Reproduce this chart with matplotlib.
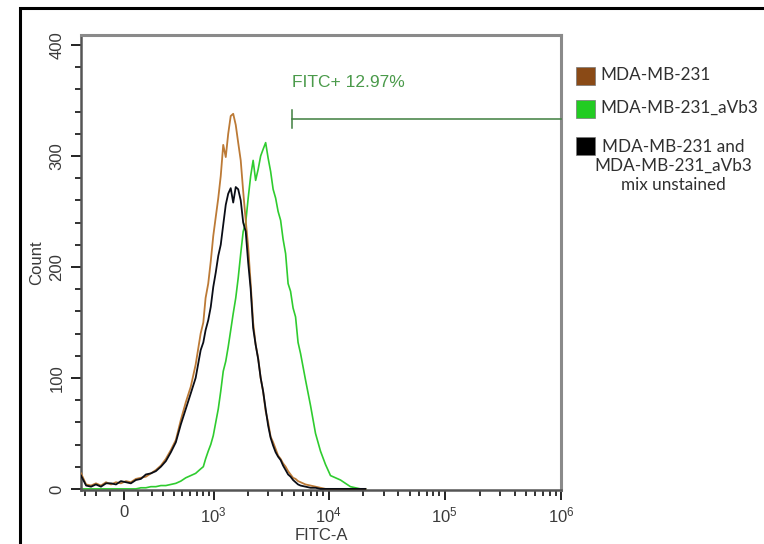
import numpy as np
import matplotlib
matplotlib.use("Agg")
import matplotlib.pyplot as plt
from matplotlib.patches import Rectangle

plt.rcParams['font.family'] = ['Liberation Sans', 'DejaVu Sans']
plt.rcParams['mathtext.fontset'] = 'custom'
plt.rcParams['mathtext.rm'] = 'Liberation Sans'
plt.rcParams['mathtext.it'] = 'Liberation Sans'

# ---------------- data ----------------
fitc = [-333, -286, -243, -203, -164, -126, -90, -55, -21, 14, 48, 83, 119, 156,
        195, 235, 278, 323, 372, 424, 480, 541, 607, 678, 757, 802, 842, 891, 940,
        991, 1044, 1100, 1158, 1219, 1284, 1350, 1421, 1495, 1574, 1654, 1741,
        1830, 1925, 2023, 2127, 2235, 2349, 2471, 2598, 2728, 2870, 3016, 3170,
        3331, 3502, 3678, 3867, 4061, 4270, 4486, 4712, 4952, 5203, 5467, 5745,
        6344, 7005, 7729, 8533, 9420, 10402, 11484, 12681, 13990, 15451, 17052,
        18827, 20776]

count_mda231 = [14, 4, 3, 5, 3, 6, 4, 6, 5, 7, 6, 9, 10, 11,
                14, 17, 21, 27, 35, 44, 62, 78, 92, 112, 140, 150, 172, 185, 205,
                228, 245, 262, 282, 310, 299, 320, 336, 338, 328, 312, 296,
                268, 242, 218, 185, 150, 130, 118, 100, 88, 70, 60, 47,
                42, 36, 30, 27, 23, 20, 16, 13, 10, 9, 7, 6,
                4, 3, 2, 1, 0, 0, 0, 0, 0, 0, 0,
                0, 0]

count_avb3 = [0, 0, 0, 0, 0, 0, 0, 0, 0, 0, 0, 0, 1, 1,
              2, 2, 3, 3, 4, 5, 7, 10, 12, 14, 18, 20, 27, 34, 40,
              48, 60, 72, 88, 106, 115, 128, 143, 158, 172, 190, 212,
              232, 240, 262, 282, 296, 278, 288, 300, 306, 312, 298, 286,
              270, 262, 250, 242, 225, 212, 185, 178, 163, 155, 132, 122,
              98, 75, 50, 34, 22, 12, 10, 8, 5, 2, 1,
              0, 0]

count_mix = [12, 3, 2, 4, 2, 5, 5, 4, 7, 6, 5, 8, 9, 13,
             14, 16, 20, 25, 33, 42, 58, 72, 86, 100, 125, 132, 143, 152, 164,
             182, 195, 210, 220, 238, 256, 266, 271, 258, 272, 270, 260,
             240, 232, 204, 180, 145, 130, 117, 100, 88, 72, 57, 46,
             39, 33, 29, 26, 21, 17, 13, 11, 8, 6, 4, 3,
             2, 1, 1, 0, 0, 0, 0, 0, 0, 0, 0,
             0, 0]

series_labels = ['MDA-MB-231', 'MDA-MB-231_aVb3',
                 'MDA-MB-231 and\nMDA-MB-231_aVb3\nmix unstained']
gate_label = 'FITC+ 12.97%'
gate_start = 4880
gate_end = 1e6
gate_level = 333

xtick_values = [0, 1e3, 1e4, 1e5, 1e6]
xtick_labels = ['0', '$10^3$', '$10^4$', '$10^5$', '$10^6$']
xminor_values = [-300, -200, -100, 100, 200, 300, 400, 500, 600, 700, 800, 900,
                 2e3, 3e3, 4e3, 5e3, 6e3, 7e3, 8e3, 9e3,
                 2e4, 3e4, 4e4, 5e4, 6e4, 7e4, 8e4, 9e4,
                 2e5, 3e5, 4e5, 5e5, 6e5, 7e5, 8e5, 9e5]
ytick_values = [0, 100, 200, 300, 400]

# ---------------- figure ----------------
fig = plt.figure(figsize=(7.64, 5.44), dpi=100)
W, H = 764, 544
ax = fig.add_axes([81 / W, 1 - 490 / H, (561 - 81) / W, (490 - 35) / H])

C = 348.0
def fwd(x):
    return np.arcsinh(np.asarray(x, dtype=float) / C)
def inv(y):
    return C * np.sinh(np.asarray(y, dtype=float))

ax.set_xscale('function', functions=(fwd, inv))
ax.set_xlim(-333, 1e6)
ax.set_ylim(-1, 409)

brown = '#bc7a36'
green = '#2fcc2f'
black = '#0a0d16'
ax.plot(fitc, count_mda231, color=brown, lw=1.3, zorder=3)
ax.plot(fitc, count_avb3, color=green, lw=1.2, zorder=2)
ax.plot(fitc, count_mix, color=black, lw=1.3, zorder=4)

# gate
gate_col = '#3f7f3f'
ax.plot([gate_start, gate_end], [gate_level, gate_level], color=gate_col, lw=1.1,
        clip_on=False, zorder=5)
ax.plot([gate_start, gate_start], [gate_level - 8, gate_level + 8], color=gate_col,
        lw=1.1, zorder=5)
ax.text(gate_start, 366, gate_label, color='#4a9a4a', fontsize=12.5,
        ha='left', va='center')

# axes styling
for s in ['top', 'right']:
    ax.spines[s].set_color('#8a8a8a')
    ax.spines[s].set_linewidth(2.2)
for s in ['left', 'bottom']:
    ax.spines[s].set_color('#555555')
    ax.spines[s].set_linewidth(1.8)

ax.set_xticks(xtick_values, labels=xtick_labels)
ax.set_xticks(xminor_values, minor=True)
ax.set_yticks(ytick_values, labels=[str(v) for v in ytick_values])
ax.set_yticks(np.arange(0, 401, 20), minor=True)
ax.tick_params(axis='both', which='major', direction='out', length=7, width=1.4,
               color='#222222', labelsize=12, labelcolor='#3a3a3a')
ax.tick_params(axis='both', which='minor', direction='out', length=4.5, width=1.3,
               color='#222222')
ax.tick_params(axis='x', pad=4)
ax.tick_params(axis='y', pad=5)
for lab in ax.get_yticklabels():
    lab.set_rotation(90)
    lab.set_va('center')
ax.set_xlabel('FITC-A', fontsize=12, color='#3a3a3a', labelpad=2)
ax.set_ylabel('Count', fontsize=12, color='#3a3a3a', labelpad=4)

# legend (manual)
leg_colors = ['#8a4a16', '#22cc22', '#000000']
sq_y = [67, 100, 137]
txt_y = [75, 108, 166]
leg_font = ['Lato', 'DejaVu Sans']
for col, y0 in zip(leg_colors, sq_y):
    fig.patches.append(Rectangle((576 / W, 1 - (y0 + 18) / H), 19 / W, 18 / H,
                                 transform=fig.transFigure, facecolor=col,
                                 edgecolor='#777777', lw=0.5))
fig.text(600 / W, 1 - txt_y[0] / H, series_labels[0], fontsize=12.3,
         family=leg_font, color='#303030', va='center', ha='left')
fig.text(600 / W, 1 - txt_y[1] / H, series_labels[1], fontsize=12.3,
         family=leg_font, color='#303030', va='center', ha='left')
fig.text(673 / W, 1 - txt_y[2] / H, series_labels[2], fontsize=12.3,
         family=leg_font, color='#303030', va='center', ha='center',
         multialignment='center', linespacing=1.25)

# outer frame
fig.patches.append(Rectangle((20 / W, -0.05), 1.2, 1 - 8 / H + 0.05,
                             transform=fig.transFigure, fill=False,
                             edgecolor='black', lw=2.2))

fig.savefig('out.png', dpi=100)
